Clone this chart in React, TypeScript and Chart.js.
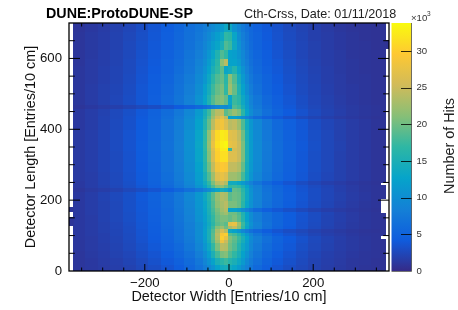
import React, { useEffect, useRef } from "react";
import { Chart, registerables } from "chart.js";

Chart.register(...registerables);

const FONT = '"Liberation Sans", Arial, sans-serif';

// Bin edges in cm
const widthEdges = [-370,-340,-310,-280,-250,-220,-190,-160,-130,-105,-80,-60,-50,-40,-30,-20,-10,0,10,20,30,40,50,60,80,105,130,160,190,220,250,280,310,340,360];
const lengthEdges = [0,20,40,60,80,90,100,110,120,130,140,160,170,180,200,225,235,245,255,280,310,340,350,370,400,430,440,460,470,500,530,560,580,600,625,650,675,700];

// Hits per bin, in hundreds, bottom row first
const hitsByRow = [
[10,12,14,17,20,25,30,36,44,55,68,80,92,105,125,140,145,140,130,115,100,85,72,58,46,36,30,25,20,16,13,11,9,8],
[10,12,15,18,22,27,33,40,48,60,74,90,105,125,150,165,175,160,150,135,115,95,78,64,50,40,33,27,21,17,14,11,10,8],
[10,13,16,20,24,30,36,44,54,66,82,100,120,150,180,205,210,185,170,150,125,105,85,70,55,44,36,29,23,18,15,12,10,9],
[11,14,17,21,26,32,39,48,58,72,90,110,135,170,205,240,235,200,185,160,135,115,92,76,60,48,39,31,25,20,16,13,11,9],
[11,14,18,22,27,34,41,50,62,76,95,118,145,185,225,280,250,205,190,170,145,120,95,80,64,50,41,33,26,21,16,13,11,9],
[12,14,18,22,28,35,42,52,64,78,98,120,150,190,235,300,275,210,195,175,150,125,98,82,66,52,42,34,27,21,17,13,11,9],
[12,15,18,23,28,36,43,53,65,80,100,122,150,190,240,290,300,190,180,160,135,110,90,72,56,44,36,29,23,18,15,12,10,9],
[12,15,19,23,29,36,44,54,66,80,100,122,150,185,230,260,240,135,125,110,92,78,66,55,44,36,30,25,20,16,13,11,9,8],
[12,15,19,24,29,37,44,55,67,82,100,120,145,175,210,225,200,230,245,215,170,130,100,84,66,52,42,34,27,21,17,13,11,9],
[12,15,19,24,30,37,45,56,68,82,100,118,140,165,190,200,190,270,275,225,175,135,105,86,68,54,44,34,28,22,17,13,11,9],
[12,15,20,25,31,38,46,57,70,85,105,122,145,170,195,205,205,195,205,190,160,125,100,82,66,54,44,35,29,22,18,14,11,9],
[12,16,20,25,31,38,47,58,71,88,108,125,150,175,200,215,225,200,200,185,155,125,100,82,66,54,44,36,29,23,18,14,11,9],
[12,16,20,25,32,39,47,58,72,88,108,128,152,180,205,225,235,125,125,115,100,85,72,58,46,38,32,26,21,17,14,12,10,8],
[12,16,20,25,32,39,48,60,73,90,110,130,155,185,215,230,240,205,205,195,165,130,105,86,68,55,45,36,29,23,18,14,11,9],
[12,16,21,26,32,40,49,61,75,92,112,135,160,190,220,235,230,190,200,195,170,135,108,88,70,56,46,37,30,24,19,15,12,9],
[10,13,16,20,25,30,36,44,54,64,76,88,100,115,130,145,135,110,195,190,165,135,105,86,68,55,45,36,30,24,18,14,11,9],
[12,16,20,25,31,38,47,58,72,88,108,130,155,185,210,220,200,170,175,170,150,125,100,84,66,54,44,35,28,23,18,14,11,9],
[12,16,21,26,32,40,49,61,75,92,115,140,170,205,240,250,235,140,140,130,115,100,85,70,55,44,36,29,23,18,15,12,10,8],
[13,16,21,26,33,41,50,63,78,96,120,150,185,225,265,275,265,225,225,215,180,140,110,90,72,57,47,38,30,24,19,15,12,9],
[13,17,22,27,34,42,52,65,80,100,125,160,200,245,285,295,290,245,245,235,195,145,115,95,75,60,48,39,31,25,19,15,12,9],
[13,17,22,27,34,43,53,66,82,102,130,165,210,260,300,315,315,265,265,250,205,150,118,96,76,61,49,39,31,25,19,15,12,9],
[13,17,22,28,35,44,54,67,83,103,130,168,215,265,305,325,325,170,260,250,205,150,118,96,77,61,49,40,32,25,20,15,12,9],
[13,17,22,28,35,44,54,67,83,104,132,170,220,275,315,330,335,275,270,250,205,150,118,96,77,61,49,40,32,25,20,15,12,9],
[13,17,22,28,35,43,53,66,82,103,130,168,215,270,310,325,320,270,265,245,200,148,116,95,75,60,48,39,31,25,19,15,12,9],
[12,16,21,27,33,42,52,65,80,100,125,158,195,240,275,285,265,240,245,225,185,140,112,92,73,58,47,38,30,24,19,15,12,9],
[12,16,21,26,33,41,51,63,78,96,120,150,185,225,255,270,240,125,125,115,100,85,74,60,48,40,33,27,22,18,14,12,10,8],
[12,16,20,26,32,40,49,61,75,92,115,145,175,215,240,245,190,205,220,205,165,125,100,82,64,52,42,34,27,21,17,13,11,9],
[9,12,15,18,22,26,30,36,42,48,55,62,70,80,90,100,95,110,185,175,145,115,92,76,60,48,39,31,25,20,16,13,11,9],
[11,15,19,24,30,37,46,57,70,85,105,128,155,185,205,210,195,130,175,165,135,110,88,72,56,46,37,30,24,19,15,12,10,8],
[11,15,19,23,29,37,45,55,68,82,100,122,145,175,195,205,170,225,195,155,125,100,80,66,52,43,35,28,23,18,14,12,10,8],
[11,14,18,22,28,36,44,53,65,78,95,112,135,165,185,195,165,215,185,145,115,92,75,62,50,41,33,27,22,17,14,11,10,8],
[11,14,18,22,27,35,42,51,62,74,90,105,125,150,170,190,130,140,160,130,105,85,70,58,47,39,32,26,21,17,13,11,9,8],
[10,14,17,21,27,34,41,50,60,72,86,100,118,140,165,215,240,125,125,115,95,80,66,55,45,38,31,25,20,16,13,11,9,8],
[10,13,17,21,26,33,40,48,58,70,82,95,110,130,155,185,170,125,120,108,92,76,63,53,44,36,30,24,19,16,13,10,9,8],
[10,13,16,20,26,32,39,47,56,67,78,90,102,118,130,150,185,175,135,105,85,72,60,51,42,35,29,24,19,15,12,10,9,7],
[10,13,16,20,25,31,38,46,55,65,75,85,95,108,120,135,170,165,130,100,82,70,58,50,41,34,28,23,18,15,12,10,8,7],
[9,12,15,19,24,30,37,45,54,64,72,80,88,96,105,115,135,135,105,90,76,66,56,48,40,33,27,22,18,14,11,9,8,7],
];

// Separate bins at the detector's sides (some are empty and stay white)
const sideX0 = [-380,-380,360,360,360,360,370];
const sideX1 = [-370,-370,370,370,370,370,380];
const sideY0 = [170,130,0,100,205,250,630];
const sideY1 = [180,150,90,160,240,700,650];
const sideHits = [9,9,7,8,8,8,7];

// Axis ticks
const xTickValues = [-200, 0, 200];
const yTickValues = [0, 200, 400, 600];
const paletteTickValues = [0, 5000, 10000, 15000, 20000, 25000, 30000];
const xMajorStep = 200;
const yMajorStep = 200;
const minorStep = 50;
const paletteMax = 33800;
const frameTop = 23;

// ROOT "bird" palette
const birdR = [0.2082,0.0592,0.078,0.0232,0.1802,0.5301,0.8186,0.9956,0.9764];
const birdG = [0.1664,0.3599,0.5041,0.6419,0.7178,0.7492,0.7328,0.7862,0.9832];
const birdB = [0.5293,0.8684,0.8385,0.7914,0.6425,0.4662,0.3499,0.1968,0.0539];

function birdColor(f: number) {
  const t = Math.max(0, Math.min(1, f)) * 8;
  const i = Math.min(7, Math.floor(t));
  const u = t - i;
  const m = (a: number[]) => Math.round(255 * (a[i] + (a[i + 1] - a[i]) * u));
  return `rgb(${m(birdR)},${m(birdG)},${m(birdB)})`;
}

type Cell = { x: number; y: number; x0: number; x1: number; y0: number; y1: number; v: number };

function buildCells(): Cell[] {
  const cells: Cell[] = [];
  hitsByRow.forEach((row, r) => {
    row.forEach((h, c) => {
      const x0 = widthEdges[c], x1 = widthEdges[c + 1], y0 = lengthEdges[r], y1 = lengthEdges[r + 1];
      cells.push({ x: (x0 + x1) / 2, y: (y0 + y1) / 2, x0, x1, y0, y1, v: h * 100 });
    });
  });
  sideHits.forEach((h, i) => {
    const x0 = sideX0[i], x1 = sideX1[i], y0 = sideY0[i], y1 = sideY1[i];
    cells.push({ x: (x0 + x1) / 2, y: (y0 + y1) / 2, x0, x1, y0, y1, v: h * 100 });
  });
  return cells;
}

const setTicks = (values: number[]) => (s: any) => {
  s.ticks = values.map((value) => ({ value }));
};

const decorations = {
  id: "decorations",
  afterDraw(chart: any) {
    const { ctx, chartArea: a, scales } = chart;
    const { x, y, yz } = scales;
    ctx.save();
    // palette bar
    const bx0 = 391.5, bx1 = 411.5;
    const top = yz.getPixelForValue(paletteMax), bot = yz.getPixelForValue(0);
    const g = ctx.createLinearGradient(0, bot, 0, top);
    for (let i = 0; i <= 32; i++) g.addColorStop(i / 32, birdColor(i / 32));
    ctx.fillStyle = g;
    ctx.fillRect(bx0, top, bx1 - bx0, bot - top);
    ctx.strokeStyle = "rgba(70,70,70,0.75)";
    ctx.lineWidth = 1;
    ctx.beginPath();
    ctx.moveTo(bx1, top); ctx.lineTo(bx1, bot + 0.5); ctx.lineTo(bx0, bot + 0.5);
    ctx.stroke();
    ctx.strokeStyle = "rgba(0,0,0,0.8)";
    paletteTickValues.slice(1).forEach((v) => {
      const p = Math.round(yz.getPixelForValue(v)) + 0.5;
      ctx.beginPath(); ctx.moveTo(401, p); ctx.lineTo(bx1, p); ctx.stroke();
    });
    // frame ticks
    ctx.strokeStyle = "#000";
    ctx.lineWidth = 1;
    for (let v = -350; v <= 350; v += minorStep) {
      const p = x.getPixelForValue(v);
      const len = v % xMajorStep === 0 ? 7 : 3.5;
      ctx.beginPath();
      ctx.moveTo(p, a.bottom); ctx.lineTo(p, a.bottom - len);
      ctx.moveTo(p, a.top); ctx.lineTo(p, a.top + len);
      ctx.stroke();
    }
    for (let v = minorStep; v < 700; v += minorStep) {
      const p = y.getPixelForValue(v);
      const len = v % yMajorStep === 0 ? 11 : 5.8;
      ctx.beginPath();
      ctx.moveTo(a.left, p); ctx.lineTo(a.left + len, p);
      ctx.moveTo(a.right, p); ctx.lineTo(a.right - len, p);
      ctx.stroke();
    }
    ctx.lineWidth = 1.3;
    ctx.strokeRect(a.left, a.top, a.right - a.left, a.bottom - a.top);
    // texts
    ctx.fillStyle = "#000";
    ctx.textBaseline = "alphabetic";
    ctx.textAlign = "left";
    ctx.font = `bold 14.3px ${FONT}`;
    ctx.fillText("DUNE:ProtoDUNE-SP", 46, 18);
    ctx.fillStyle = "#222";
    ctx.font = `12.6px ${FONT}`;
    ctx.fillText("Cth-Crss, Date: 01/11/2018", 244, 18);
    ctx.fillStyle = "#333";
    ctx.font = `9.6px ${FONT}`;
    ctx.fillText("×10", 411, 21);
    ctx.font = `6.5px ${FONT}`;
    ctx.fillText("3", 427, 16);
    ctx.fillStyle = "#222";
    ctx.font = `14.4px ${FONT}`;
    ctx.translate(454, 146);
    ctx.rotate(-Math.PI / 2);
    ctx.textAlign = "center";
    ctx.fillText("Number of Hits", 0, 0);
    ctx.restore();
  },
};

export default function App() {
  const ref = useRef<HTMLCanvasElement>(null);
  useEffect(() => {
    const cells = buildCells();
    const stamp = (c: any) => {
      const cell = cells[c.dataIndex];
      const { x, y } = c.chart.scales;
      const cv = document.createElement("canvas");
      if (!cell) return cv;
      cv.width = Math.ceil(Math.abs(x.getPixelForValue(cell.x1) - x.getPixelForValue(cell.x0))) + 1;
      cv.height = Math.ceil(Math.abs(y.getPixelForValue(cell.y1) - y.getPixelForValue(cell.y0))) + 1;
      const g = cv.getContext("2d")!;
      g.fillStyle = birdColor(cell.v / paletteMax);
      g.fillRect(0, 0, cv.width, cv.height);
      return cv;
    };
    const chart: any = new Chart(ref.current!, {
      type: "scatter",
      data: {
        datasets: [
          {
            label: "Number of Hits",
            data: cells as any,
            pointStyle: stamp as any,
            pointRadius: 1,
            pointHoverRadius: 1,
            pointBorderWidth: 0,
          },
        ],
      },
      options: {
        responsive: false,
        animation: false,
        events: [],
        layout: { padding: { top: frameTop, left: 0, right: 0, bottom: 0 } },
        plugins: { legend: { display: false }, tooltip: { enabled: false }, title: { display: false } },
        scales: {
          x: {
            type: "linear",
            min: -380,
            max: 380,
            position: "bottom",
            grid: { display: false, drawTicks: false },
            border: { display: false },
            afterBuildTicks: setTicks(xTickValues),
            afterFit: (s: any) => { s.height = 39; },
            ticks: {
              padding: 4,
              maxRotation: 0,
              autoSkip: false,
              color: "#111",
              font: { family: FONT, size: 13.2 },
              callback: (v: any) => (v < 0 ? "−" + Math.abs(v) : String(v)),
            },
            title: {
              display: true,
              text: "Detector Width [Entries/10 cm]",
              color: "#111",
              font: { family: FONT, size: 14.4 },
              padding: { top: 0, bottom: 4 },
            },
          },
          y: {
            type: "linear",
            min: 0,
            max: 700,
            position: "left",
            grid: { display: false, drawTicks: false },
            border: { display: false },
            afterBuildTicks: setTicks(yTickValues),
            afterFit: (s: any) => { s.width = 69; },
            ticks: {
              padding: 7,
              autoSkip: false,
              color: "#111",
              font: { family: FONT, size: 13.2 },
            },
            title: {
              display: true,
              text: "Detector Length [Entries/10 cm]",
              color: "#111",
              font: { family: FONT, size: 14.4 },
              padding: { top: 22, bottom: 0 },
            },
          },
          yz: {
            type: "linear",
            min: 0,
            max: paletteMax,
            position: "right",
            grid: { display: false, drawTicks: false },
            border: { display: false },
            afterBuildTicks: setTicks(paletteTickValues),
            afterFit: (s: any) => { s.width = 69; s.paddingTop = 0; s.paddingBottom = 0; },
            ticks: {
              padding: 27.5,
              autoSkip: false,
              color: "#333",
              font: { family: FONT, size: 9.6 },
              callback: (v: any) => String(v / 1000),
            },
          },
        },
      },
      plugins: [decorations],
    } as any);
    return () => chart.destroy();
  }, []);
  return (
    <div style={{ position: "absolute", left: 0, top: 0, width: 458, height: 310, background: "#fff" }}>
      <canvas ref={ref} width={458} height={310} style={{ display: "block" }} />
    </div>
  );
}
